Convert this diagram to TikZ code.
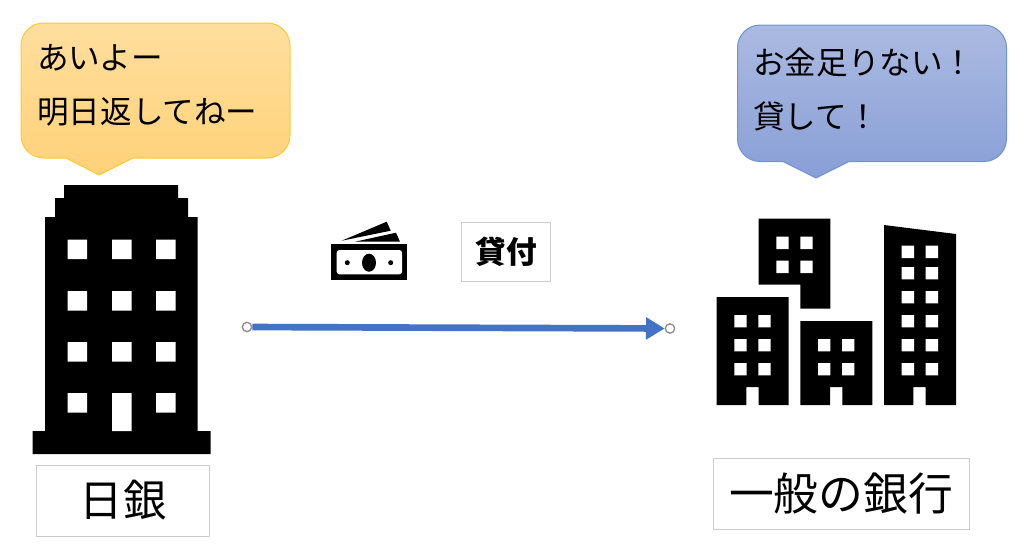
\documentclass[tikz,border=0pt]{standalone}
\usepackage{fontspec}
\setmainfont{Noto Sans CJK JP}
\usetikzlibrary{%
  arrows.meta,%
  calc%
}
\definecolor{orangetop}{HTML}{FFDE9E}
\definecolor{orangebot}{HTML}{FFD278}
\definecolor{orangeline}{HTML}{FFC832}
\definecolor{bluetop}{HTML}{ABBAE1}
\definecolor{bluebot}{HTML}{889FD6}
\definecolor{blueline}{HTML}{6F93D0}
\definecolor{lendblue}{HTML}{4472C4}
\tikzset{
  >=latex,
  namebox/.style={draw=black!20,line width=0.75pt,fill=white,inner sep=0pt},
  talk/.style={anchor=west,inner sep=0pt,font=\fontsize{23.7}{28}\selectfont},
  handle/.style={circle,draw=black!45,fill=white,line width=1pt,inner sep=0pt,minimum size=7pt}
}

\begin{document}
\begin{tikzpicture}[x=0.75pt,y=-0.75pt]
    \useasboundingbox (0,0) rectangle (1024,547);
    % speech bubbles
    \shade[top color=orangetop,bottom color=orangebot,draw=orangeline,line width=0.75pt]
      (133,158) [rounded corners=17pt] -- (290,158) -- (290,23) -- (21,23) -- (21,158)
      [sharp corners] -- (66,158) -- (99,175) -- cycle;
    \node[talk] (aiyo) at (37,58) {あいよー};
    \node[talk] (ashita) at (37,112) {明日返してねー};
    \shade[top color=bluetop,bottom color=bluebot,draw=blueline,line width=0.75pt]
      (849,161.5) [rounded corners=17pt] -- (1006.5,161.5) -- (1006.5,25) -- (737.5,25) -- (737.5,161.5)
      [sharp corners] -- (783,161.5) -- (816,178) -- cycle;
    \node[talk] (okane) at (753,62) {お金足りない！};
    \node[talk] (kashite) at (753,116) {貸して！};
    % central bank
    \fill (64,185) -- (178,185) -- (178,198) -- (188,198) -- (188,217) -- (197.5,217)
      -- (197.5,431) -- (210.5,431) -- (210.5,454) -- (32.5,454) -- (32.5,431) -- (45,431)
      -- (45,217) -- (55,217) -- (55,198) -- (64,198) -- cycle;
    \fill[white] (67.5,239.5) rectangle ++(19.5,19.5) (112,239.5) rectangle ++(19.5,19.5) (156,239.5) rectangle ++(19.5,19.5);
    \fill[white] (67.5,291) rectangle ++(19.5,19.5) (112,291) rectangle ++(19.5,19.5) (156,291) rectangle ++(19.5,19.5);
    \fill[white] (67.5,342) rectangle ++(19.5,19.5) (112,342) rectangle ++(19.5,19.5) (156,342) rectangle ++(19.5,19.5);
    \fill[white] (67.5,393) rectangle ++(19.5,19.5) (112,393) rectangle (131.5,431) (156,393) rectangle ++(19.5,19.5);
    \node[namebox,minimum width=130pt,minimum height=53.25pt,font=\fontsize{32.5}{40}\selectfont]
      (nichigin) at (123,500.5) {日銀};
    % banknotes
    \fill (341.7,240.7) -- (386.7,221.7) -- (390.7,230.7) -- (355,238) -- cycle;
    \fill (355,241.7) -- (396,232.7) -- (400,241.7) -- cycle;
    \fill (331,244.3) rectangle (407.3,279.7);
    \fill[white,rounded corners=2pt] (336.7,250) rectangle (402,274.3);
    \fill (369,262.7) ellipse [x radius=7,y radius=9];
    \fill (347.3,262.7) circle (2.5);
    \fill (390.7,262.7) circle (2.5);
    \node[namebox,minimum width=67pt,minimum height=44.25pt,font=\fontsize{23}{27}\selectfont\bfseries]
      (kashitsuke) at (506,251.8) {貸付};
    % lending arrow
    \node[handle] (lendfrom) at (247,327) {};
    \node[handle] (lendto) at (670,328.5) {};
    \draw[lendblue,line width=5pt,-{Triangle[length=14pt,width=16pt]}] (lendfrom) -- (lendto);
    % commercial banks
    \fill (758.7,218.7) -- (830.3,218.7) -- (830.3,308.7) -- (800.3,308.7) -- (800.3,284.7) -- (758.7,284.7) -- cycle;
    \fill[white] (776.3,236.7) rectangle ++(12.3,12.3) (800.3,236.7) rectangle ++(12.3,12.3);
    \fill[white] (776.3,260.7) rectangle ++(12.3,12.3) (800.3,260.7) rectangle ++(12.3,12.3);
    \begin{scope}
      \fill (716.7,297) -- (788.7,297) -- (788.7,405) -- (758.7,405) -- (758.7,387) -- (746.3,387)
        -- (746.3,405) -- (716.7,405) -- cycle;
      \fill[white] (734.3,315) rectangle ++(12.3,12.3) (758.3,315) rectangle ++(12.3,12.3);
      \fill[white] (734.3,339) rectangle ++(12.3,12.3) (758.3,339) rectangle ++(12.3,12.3);
      \fill[white] (734.3,363) rectangle ++(12.3,12.3) (758.3,363) rectangle ++(12.3,12.3);
    \end{scope}
    \begin{scope}
      \fill (800.3,321) -- (872.3,321) -- (872.3,405) -- (842.3,405) -- (842.3,387) -- (830,387)
        -- (830,405) -- (800.3,405) -- cycle;
      \fill[white] (818,339) rectangle ++(12.3,12.3) (842,339) rectangle ++(12.3,12.3);
      \fill[white] (818,363) rectangle ++(12.3,12.3) (842,363) rectangle ++(12.3,12.3);
    \end{scope}
    \begin{scope}
      \fill (884,225) -- (956,234) -- (956,405) -- (925.7,405) -- (925.7,387) -- (913.3,387)
        -- (913.3,405) -- (884,405) -- cycle;
      \fill[white] (901.7,245.7) rectangle ++(12.3,12.3) (925.7,245.7) rectangle ++(12.3,12.3);
      \fill[white] (901.7,267) rectangle ++(12.3,12.3) (925.7,267) rectangle ++(12.3,12.3);
      \fill[white] (901.7,291) rectangle ++(12.3,12.3) (925.7,291) rectangle ++(12.3,12.3);
      \fill[white] (901.7,315) rectangle ++(12.3,12.3) (925.7,315) rectangle ++(12.3,12.3);
      \fill[white] (901.7,339) rectangle ++(12.3,12.3) (925.7,339) rectangle ++(12.3,12.3);
      \fill[white] (901.7,363) rectangle ++(12.3,12.3) (925.7,363) rectangle ++(12.3,12.3);
    \end{scope}
    \node[namebox,minimum width=192pt,minimum height=53.25pt,font=\fontsize{33.6}{40}\selectfont]
      (ginko) at (841,493.5) {一般の銀行};
\end{tikzpicture}
\end{document}
